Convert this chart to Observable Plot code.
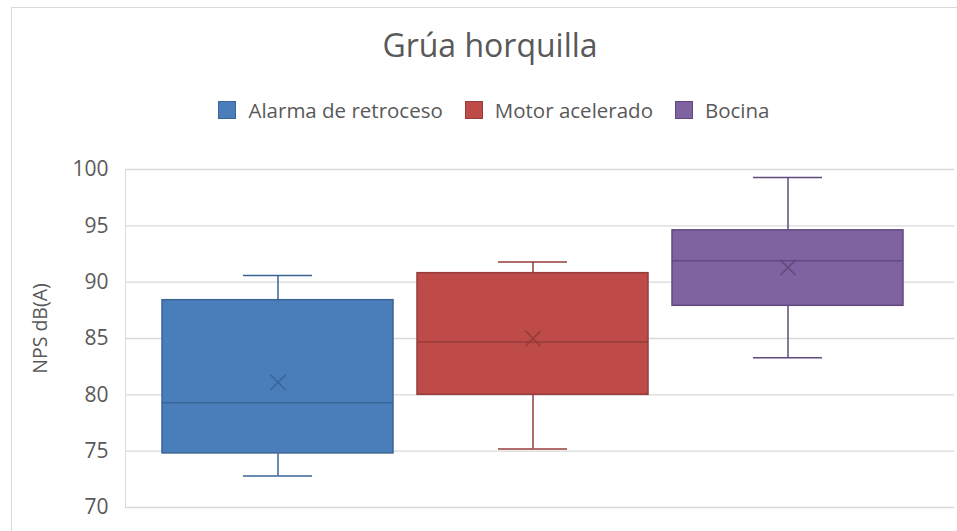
<!DOCTYPE html>
<html>
<head>
<meta charset="utf-8">
<script src="https://cdn.jsdelivr.net/npm/d3@7"></script>
<script src="https://cdn.jsdelivr.net/npm/@observablehq/plot@0.6"></script>
<style>
  html, body { margin: 0; padding: 0; background: #fff; }
  body { width: 957px; height: 531px; overflow: hidden; position: relative; font-family: "Open Sans", sans-serif; color: #595959; }
  #border { position: absolute; left: 11px; top: 7px; width: 960px; height: 540px; border-left: 1px solid #d9d9d9; border-top: 1px solid #d9d9d9; box-sizing: border-box; }
  #title { position: absolute; left: 0; width: 980px; top: 23px; text-align: center; font-size: 32px; line-height: 44px; }
  #legend { position: absolute; left: 0; width: 988px; top: 95px; display: flex; justify-content: center; gap: 22px; font-size: 20.5px; line-height: 30px; }
  .item { display: flex; align-items: center; gap: 12px; }
  .sw { width: 18px; height: 18px; box-sizing: border-box; border: 1px solid; }
  #chart { position: absolute; left: 0; top: 150px; }
</style>
</head>
<body>
<div id="border"></div>
<div id="title">Grúa horquilla</div>
<div id="legend"></div>
<div id="chart"></div>
<script>
const series = ["Alarma de retroceso", "Motor acelerado", "Bocina"];
const whiskerLow = [72.8, 75.2, 83.3];
const q1 = [74.8, 80.0, 87.9];
const median = [79.3, 84.7, 91.9];
const q3 = [88.4, 90.8, 94.6];
const whiskerHigh = [90.6, 91.8, 99.3];
const mean = [81.1, 85.0, 91.3];
const fills = ["#4a7ebb", "#be4b48", "#7f63a1"];
const strokes = ["#3a6496", "#943c3a", "#5f4a7d"];
const yTicks = [70, 75, 80, 85, 90, 95, 100];

const data = series.map((s, i) => ({
  s, lo: whiskerLow[i], q1: q1[i], med: median[i], q3: q3[i], hi: whiskerHigh[i], mean: mean[i],
  fill: fills[i], stroke: strokes[i]
}));

const legend = document.getElementById("legend");
series.forEach((s, i) => {
  const it = document.createElement("div");
  it.className = "item";
  const sw = document.createElement("div");
  sw.className = "sw";
  sw.style.background = fills[i];
  sw.style.borderColor = strokes[i];
  const t = document.createElement("span");
  t.textContent = s;
  it.append(sw, t);
  legend.append(it);
});

const capInset = 81;
const chart = Plot.plot({
  width: 957,
  height: 377,
  marginTop: 19,
  marginBottom: 20,
  marginLeft: 125,
  marginRight: 3,
  style: { fontFamily: "Open Sans, sans-serif", background: "transparent", overflow: "visible" },
  x: { domain: series, range: [149.25, 915.75], paddingInner: 0.096, paddingOuter: 0.048, axis: null },
  y: { domain: [70, 100] },
  color: { type: "identity" },
  marks: [
    Plot.gridY(yTicks, { stroke: "#d9d9d9", strokeOpacity: 1, strokeWidth: 1.3 }),
    Plot.frame({ anchor: "left", stroke: "#d9d9d9" }),
    Plot.axisY(yTicks, { tickSize: 0, tickPadding: 17, fontSize: 21, fill: "#595959", label: null }),
    Plot.text(["NPS dB(A)"], { frameAnchor: "left", textAnchor: "middle", dx: -85, dy: -10, rotate: -90, fontSize: 19.5, fill: "#595959" }),
    Plot.ruleX(data, { x: "s", y1: "lo", y2: "q1", stroke: "stroke", strokeWidth: 1.5 }),
    Plot.ruleX(data, { x: "s", y1: "q3", y2: "hi", stroke: "stroke", strokeWidth: 1.5 }),
    Plot.tickY(data, { x: "s", y: "lo", stroke: "stroke", strokeWidth: 1.5, insetLeft: capInset, insetRight: capInset }),
    Plot.tickY(data, { x: "s", y: "hi", stroke: "stroke", strokeWidth: 1.5, insetLeft: capInset, insetRight: capInset }),
    Plot.barY(data, { x: "s", y1: "q1", y2: "q3", fill: "fill", stroke: "stroke", strokeWidth: 1.5 }),
    Plot.tickY(data, { x: "s", y: "med", stroke: "stroke", strokeWidth: 1.5 }),
    Plot.dot(data, { x: "s", y: "mean", symbol: "times", r: 7, stroke: "stroke", strokeWidth: 1.5 })
  ]
});
document.getElementById("chart").append(chart);
</script>
</body>
</html>
